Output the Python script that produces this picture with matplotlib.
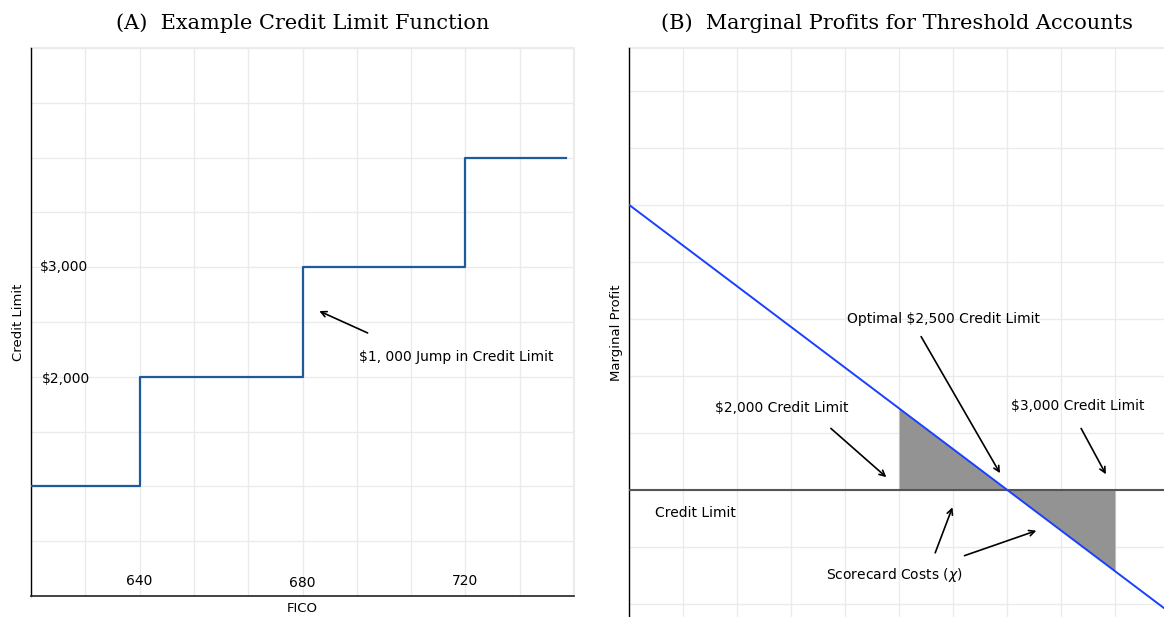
import numpy as np
import matplotlib
matplotlib.use('Agg')
import matplotlib.pyplot as plt
from matplotlib.ticker import MultipleLocator

# Panel A: credit limit step function
fico_edges = [613.33, 640, 680, 720, 744.7]
credit_levels = [1000, 2000, 3000, 4000]
fico_ticks = [640, 680, 720]
fico_tick_labels = ['640', '680', '720']
limit_labels = ['$3,000', '$2,000']

# Panel B: marginal profit line and scorecard cost regions
cl_line = [750, 3250]
mp_line = [5.0, -2.14]
cl_fill_left = [2000, 2500]
mp_fill_left = [1.43, 0.0]
cl_fill_right = [2500, 3000]
mp_fill_right = [0.0, -1.43]

sans = 'DejaVu Sans'
serif = 'DejaVu Serif'
grid_col = '#ebebeb'

fig = plt.figure(figsize=(11.64, 6.17), dpi=100)

# ---- Panel A ----
ax1 = fig.add_axes([0.02663, 0.0340, 0.4665, 0.8882])
step_x = []
step_y = []
for i, lev in enumerate(credit_levels):
    step_x += [fico_edges[i], fico_edges[i + 1]]
    step_y += [lev, lev]
ax1.plot(step_x, step_y, color='#1d5b9a', linewidth=1.6, zorder=3)

ax1.set_xlim(613.33, 613.33 + 10 * 40 / 3)
ax1.set_ylim(0, 5000)
ax1.xaxis.set_major_locator(MultipleLocator(40 / 3))
ax1.yaxis.set_major_locator(MultipleLocator(500))
ax1.set_xticklabels([])
ax1.set_yticklabels([])
ax1.tick_params(length=0)
ax1.grid(True, color=grid_col, linewidth=1)
ax1.set_axisbelow(True)
for s in ['top', 'right']:
    ax1.spines[s].set_visible(False)
ax1.spines['left'].set_color('black')
ax1.spines['left'].set_linewidth(1.0)
ax1.spines['bottom'].set_color('#222222')
ax1.spines['bottom'].set_linewidth(1.2)
# frame lines at top/right as grid colour
ax1.axhline(5000, color=grid_col, linewidth=1.5, clip_on=False)
ax1.axvline(613.33 + 10 * 40 / 3, color=grid_col, linewidth=1.5, clip_on=False)

tick_y = [137, 119, 137]
for f, lab, ty in zip(fico_ticks, fico_tick_labels, tick_y):
    ax1.text(f, ty, lab, ha='center', va='center', fontsize=10, family=sans)
ax1.text(615.4, 3000, limit_labels[0], ha='left', va='center', fontsize=10, family=sans)
ax1.text(616.0, 1980, limit_labels[1], ha='left', va='center', fontsize=10, family=sans)

ax1.annotate('', xy=(683.5, 2610), xytext=(696.6, 2390),
             arrowprops=dict(arrowstyle='->', color='black', lw=1.2))
ax1.text(693.9, 2181, '$1, 000 Jump in Credit Limit', ha='left', va='center',
         fontsize=10, family=sans)

ax1.set_xlabel('FICO', fontsize=9.5, family=sans, labelpad=1)
ax1.set_ylabel('Credit Limit', fontsize=9.5, family=sans, labelpad=1)
ax1.set_title('(A)  Example Credit Limit Function', fontsize=15, family=serif, pad=14)

# ---- Panel B ----
ax2 = fig.add_axes([0.5404, 0.0, 0.4596, 0.9222])
ax2.fill_between(cl_fill_left, mp_fill_left, 0, color='#939393', linewidth=0, zorder=2)
ax2.fill_between(cl_fill_right, mp_fill_right, 0, color='#939393', linewidth=0, zorder=2)
ax2.axhline(0, color='#555555', linewidth=1.5, zorder=3)
ax2.plot(cl_line, mp_line, color='#1a40ff', linewidth=1.4, zorder=4)

ax2.set_xlim(750, 750 + 250 * 535 / 54)
ax2.set_ylim(-2.23, 7.75)
ax2.xaxis.set_major_locator(MultipleLocator(250))
ax2.yaxis.set_major_locator(MultipleLocator(1))
ax2.set_xticklabels([])
ax2.set_yticklabels([])
ax2.tick_params(length=0)
ax2.grid(True, color=grid_col, linewidth=1)
ax2.set_axisbelow(True)
for s in ['top', 'right', 'bottom']:
    ax2.spines[s].set_visible(False)
ax2.spines['left'].set_color('black')
ax2.spines['left'].set_linewidth(1.0)
ax2.axhline(7.75, color=grid_col, linewidth=1.5, clip_on=False)

arrow = dict(arrowstyle='->', color='black', lw=1.2)
ax2.text(2208, 3.0, 'Optimal $2,500 Credit Limit', ha='center', va='center',
         fontsize=10, family=sans)
ax2.annotate('', xy=(2474, 0.25), xytext=(2096, 2.73), arrowprops=arrow)
ax2.text(1458, 1.44, '$2,000 Credit Limit', ha='center', va='center',
         fontsize=10, family=sans)
ax2.annotate('', xy=(1951, 0.19), xytext=(1675, 1.11), arrowprops=arrow)
ax2.text(2829, 1.47, '$3,000 Credit Limit', ha='center', va='center',
         fontsize=10, family=sans)
ax2.annotate('', xy=(2964, 0.23), xytext=(2837, 1.12), arrowprops=arrow)
ax2.text(1056, -0.40, 'Credit Limit', ha='center', va='center',
         fontsize=10, family=sans)
ax2.text(1977, -1.50, r'Scorecard Costs ($\chi$)', ha='center', va='center',
         fontsize=10, family=sans)
ax2.annotate('', xy=(2252, -0.26), xytext=(2163, -1.15), arrowprops=arrow)
ax2.annotate('', xy=(2648, -0.70), xytext=(2291, -1.17), arrowprops=arrow)

ax2.set_ylabel('Marginal Profit', fontsize=9.5, family=sans, labelpad=1)
ax2.set_title('(B)  Marginal Profits for Threshold Accounts', fontsize=15,
              family=serif, pad=14)

fig.savefig('out.png', dpi=100)
